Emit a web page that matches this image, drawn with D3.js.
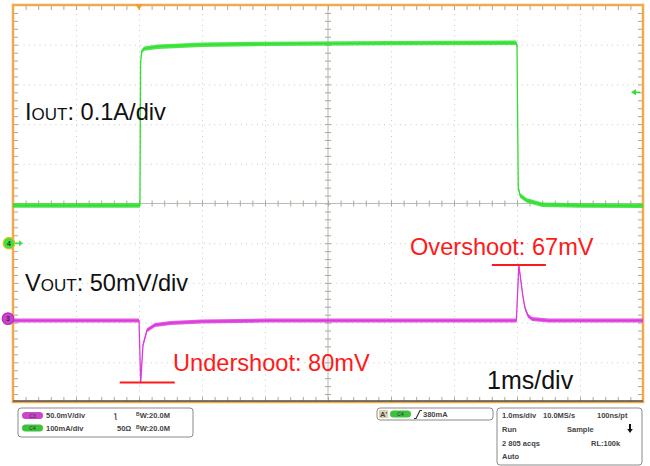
<!DOCTYPE html>
<html>
<head>
<meta charset="utf-8">
<script src="https://cdn.jsdelivr.net/npm/d3@7"></script>
<style>
  body { margin: 0; background: #fff; }
  svg { display: block; font-family: "Liberation Sans", Arial, sans-serif; }
  .stat { font-size: 7.5px; font-weight: bold; fill: #444; }
  .label { font-size: 23.6px; fill: #111; }
  .note { font-size: 23.6px; fill: #ff1a1a; }
</style>
</head>
<body>
<script>
// screen graticule
var plot = { left: 13, right: 643, top: 5, bottom: 402 };
var divisions = [-5, -4, -3, -2, -1, 0, 1, 2, 3, 4, 5];

// horizontal: ms, trigger at 0
var timeDomain = [-2, 8];

// channel 4 (load current, 0.1 A/div, ground 1 div below centre)
var iTime = [-2, 0, 0.015, 0.025, 0.04, 0.08, 0.3, 1, 2, 4, 5.98, 6.0, 6.02, 6.05, 6.15, 6.4, 7, 8];
var iAmps = [0.095, 0.095, 0.095, 0.45, 0.482, 0.49, 0.495, 0.5, 0.502, 0.504, 0.505, 0.5, 0.14, 0.12, 0.108, 0.097, 0.095, 0.094];

// channel 3 (output voltage deviation in mV, 50 mV/div)
var vTime = [-2, 0, 0.027, 0.063, 0.127, 0.254, 0.5, 1, 2, 5.99, 6.015, 6.03, 6.06, 6.095, 6.127, 6.175, 6.24, 6.5, 8];
var vMilli = [0, 0, -78, -31, -12, -5.5, -3, -1, 0, 0, 45, 70, 51, 30, 16, 6, 2, 0, 0];

var triggerAmps = 0.38;

var width = 650, height = 466;

var svg = d3.select("body").append("svg")
    .attr("width", width)
    .attr("height", height);

var x = d3.scaleLinear().domain(timeDomain).range([plot.left, plot.right]);
var yDiv = d3.scaleLinear().domain([-5, 5]).range([plot.bottom, plot.top]);
// per-channel scales in their own units
var yI = d3.scaleLinear().domain([(-5 + 1) * 0.1, (5 + 1) * 0.1]).range([plot.bottom, plot.top]);
var yV = d3.scaleLinear().domain([(-5 + 2.95) * 50, (5 + 2.95) * 50]).range([plot.bottom, plot.top]);
var xDiv = d3.scaleLinear().domain([-5, 5]).range([plot.left, plot.right]);

var grid = svg.append("g").attr("class", "graticule");

// dotted division lines
grid.append("g")
    .attr("transform", "translate(0," + plot.bottom + ")")
    .call(d3.axisBottom(xDiv).tickValues(divisions.filter(function (d) { return Math.abs(d) != 5 && d != 0; }))
        .tickSize(-(plot.bottom - plot.top)).tickFormat(""))
    .call(function (g) { g.select(".domain").remove(); })
    .selectAll("line")
    .attr("stroke", "#c9c9c9")
    .attr("stroke-dasharray", "1,4.3");

grid.append("g")
    .attr("transform", "translate(" + plot.left + ",0)")
    .call(d3.axisLeft(yDiv).tickValues(divisions.filter(function (d) { return Math.abs(d) != 5 && d != 0; }))
        .tickSize(-(plot.right - plot.left)).tickFormat(""))
    .call(function (g) { g.select(".domain").remove(); })
    .selectAll("line")
    .attr("stroke", "#c9c9c9")
    .attr("stroke-dasharray", "1,4.3");

// minor ticks every 0.2 div
var minor = d3.range(-5, 5.001, 0.2).map(function (d) { return +d.toFixed(1); })
    .filter(function (d) { return Math.abs(d) < 5; });

// centre crosshair
grid.append("line")
    .attr("x1", plot.left).attr("x2", plot.right)
    .attr("y1", yDiv(0)).attr("y2", yDiv(0))
    .attr("stroke", "#bdbdb3").attr("stroke-width", 1);
grid.append("line")
    .attr("x1", xDiv(0)).attr("x2", xDiv(0))
    .attr("y1", plot.top).attr("y2", plot.bottom)
    .attr("stroke", "#bdbdb3").attr("stroke-width", 1);

function tickAxis(axis, tx, ty) {
    grid.append("g")
        .attr("transform", "translate(" + tx + "," + ty + ")")
        .call(axis.tickValues(minor).tickFormat("").tickSizeOuter(0))
        .call(function (g) { g.select(".domain").remove(); })
        .selectAll("line")
        .attr("stroke", "#a8a8a0");
}
// crosshair ticks, both sides
tickAxis(d3.axisBottom(xDiv).tickSize(3), 0, yDiv(0));
tickAxis(d3.axisTop(xDiv).tickSize(3), 0, yDiv(0));
tickAxis(d3.axisLeft(yDiv).tickSize(3), xDiv(0), 0);
tickAxis(d3.axisRight(yDiv).tickSize(3), xDiv(0), 0);
// border ticks pointing inwards
tickAxis(d3.axisBottom(xDiv).tickSize(5), 0, plot.top);
tickAxis(d3.axisTop(xDiv).tickSize(5), 0, plot.bottom);
tickAxis(d3.axisRight(yDiv).tickSize(5), plot.left, 0);
tickAxis(d3.axisLeft(yDiv).tickSize(5), plot.right, 0);

// frame
svg.append("rect")
    .attr("x", plot.left).attr("y", plot.top)
    .attr("width", plot.right - plot.left).attr("height", plot.bottom - plot.top)
    .attr("fill", "none")
    .attr("stroke", "#f0ac4c")
    .attr("stroke-width", 2.5);
svg.append("line")
    .attr("x1", plot.left).attr("x2", plot.right)
    .attr("y1", plot.bottom - 1).attr("y2", plot.bottom - 1)
    .attr("stroke", "#55524a").attr("stroke-width", 1.5);

// traces: thin line plus a noise band
function drawTrace(times, values, yScale, color, band) {
    var pts = times.map(function (t, i) { return [t, values[i]]; });
    var area = d3.area()
        .x(function (d) { return x(d[0]); })
        .y0(function (d) { return yScale(d[1]) - band; })
        .y1(function (d) { return yScale(d[1]) + band; });
    var line = d3.line()
        .x(function (d) { return x(d[0]); })
        .y(function (d) { return yScale(d[1]); });
    var g = svg.append("g");
    g.append("path").datum(pts)
        .attr("d", area)
        .attr("fill", color)
        .attr("opacity", 0.85);
    g.append("path").datum(pts)
        .attr("d", line)
        .attr("fill", "none")
        .attr("stroke", color)
        .attr("stroke-width", 1.3);
}
drawTrace(iTime, iAmps, yI, "#2fe02f", 2.2);
drawTrace(vTime, vMilli, yV, "#dc3adc", 2.0);

// trigger position marker on top
svg.append("path")
    .attr("d", "M" + (x(0) - 4) + "," + (plot.top - 1) + "L" + (x(0) + 4) + "," + (plot.top - 1) + "L" + x(0) + "," + (plot.top + 5) + "Z")
    .attr("fill", "#f0a030");

// trigger level arrow on right
var trigY = yI(triggerAmps);
svg.append("line")
    .attr("x1", plot.right - 9).attr("x2", plot.right - 3)
    .attr("y1", trigY).attr("y2", trigY)
    .attr("stroke", "#2fe02f").attr("stroke-width", 1.5);
svg.append("path")
    .attr("d", "M" + (plot.right - 12) + "," + trigY + "l5,-3l0,6Z")
    .attr("fill", "#2fe02f");

// channel ground markers
function chanMarker(cx, cy, fill, label, arrow) {
    var g = svg.append("g");
    if (arrow) {
        g.append("line").attr("x1", cx + 5).attr("x2", cx + 10).attr("y1", cy).attr("y2", cy)
            .attr("stroke", fill).attr("stroke-width", 1.5);
        g.append("path").attr("d", "M" + (cx + 14) + "," + cy + "l-4,-3l0,6Z").attr("fill", fill);
    }
    g.append("circle").attr("cx", cx).attr("cy", cy).attr("r", 5.8)
        .attr("fill", fill).attr("stroke", arrow ? "#e8c020" : "#b830b8").attr("stroke-width", 1.2);
    g.append("text").attr("x", cx).attr("y", cy + 2.5)
        .attr("text-anchor", "middle").attr("font-size", 7).attr("font-weight", "bold")
        .attr("fill", "#333").text(label);
}
chanMarker(9, yI(0), "#3ee03e", "4", true);
chanMarker(8, yV(0) - 2, "#d040d0", "3", false);

// labels
var iLab = svg.append("text").attr("class", "label").attr("x", 25).attr("y", 120);
iLab.append("tspan").text("I");
iLab.append("tspan").attr("font-size", 17).text("OUT");
iLab.append("tspan").text(": 0.1A/div");

var vLab = svg.append("text").attr("class", "label").attr("x", 25).attr("y", 291);
vLab.append("tspan").text("V");
vLab.append("tspan").attr("font-size", 17).text("OUT");
vLab.append("tspan").text(": 50mV/div");

svg.append("text").attr("class", "label").attr("x", 487).attr("y", 389)
    .attr("font-size", 25).style("font-size", "25px").text("1ms/div");

// undershoot / overshoot annotations from the data extremes
var minIdx = d3.minIndex(vMilli), maxIdx = d3.maxIndex(vMilli);
svg.append("line")
    .attr("x1", x(vTime[minIdx]) - 21).attr("x2", x(vTime[minIdx]) + 34)
    .attr("y1", yV(vMilli[minIdx])).attr("y2", yV(vMilli[minIdx]))
    .attr("stroke", "#ff1a1a").attr("stroke-width", 2);
svg.append("text").attr("class", "note").attr("x", 173).attr("y", 371).text("Undershoot: 80mV");

svg.append("line")
    .attr("x1", x(vTime[maxIdx]) - 27).attr("x2", x(vTime[maxIdx]) + 27)
    .attr("y1", yV(vMilli[maxIdx])).attr("y2", yV(vMilli[maxIdx]))
    .attr("stroke", "#ff1a1a").attr("stroke-width", 2);
svg.append("text").attr("class", "note").attr("x", 410).attr("y", 255).text("Overshoot: 67mV");

// status bar
function box(x0, y0, w, h) {
    svg.append("rect").attr("x", x0).attr("y", y0).attr("width", w).attr("height", h)
        .attr("rx", 3).attr("fill", "#fff").attr("stroke", "#8a8a8a").attr("stroke-width", 1);
}
function pill(x0, cy, fill, label) {
    svg.append("rect").attr("x", x0).attr("y", cy - 3.5).attr("width", 21).attr("height", 7)
        .attr("rx", 3.5).attr("fill", fill);
    svg.append("text").attr("x", x0 + 10.5).attr("y", cy + 2).attr("text-anchor", "middle")
        .attr("font-size", 5).attr("fill", "#333").text(label);
}
function stat(x0, y0, s) {
    return svg.append("text").attr("class", "stat").attr("x", x0).attr("y", y0).text(s);
}
function bw(x0, y0) {
    var t = svg.append("text").attr("class", "stat").attr("x", x0).attr("y", y0);
    t.append("tspan").attr("font-size", 5).attr("dy", -2).text("B");
    t.append("tspan").attr("dy", 2).text("W:20.0M");
}

box(18, 408, 175, 29);
pill(22, 415.5, "#c846c8", "C3");
stat(46, 418, "50.0mV/div");
stat(114, 418, "\u01AA");
bw(136, 418);
pill(22, 428, "#3cc23c", "C4");
stat(46, 431, "100mA/div");
stat(117, 431, "50\u03A9");
bw(136, 431);

box(377, 408, 116, 12);
svg.append("rect").attr("x", 379).attr("y", 410).attr("width", 9).attr("height", 8).attr("fill", "#e0d0b0");
stat(380, 417, "A'");
pill(390, 414, "#3cc23c", "C4");
svg.append("path").attr("d", "M414,418.5h2l4,-8h2").attr("fill", "none").attr("stroke", "#333").attr("stroke-width", 1.2);
stat(423, 417, "380mA");

box(497, 408, 145, 57);
stat(502, 418, "1.0ms/div");
stat(543, 418, "10.0MS/s");
stat(597, 418, "100ns/pt");
stat(502, 432, "Run");
stat(567, 432, "Sample");
svg.append("path").attr("d", "M629,424v5h-1.8l2.8,4l2.8,-4h-1.8v-5Z").attr("fill", "#111");
stat(502, 446, "2 805 acqs");
stat(591, 446, "RL:100k");
stat(502, 459, "Auto");
</script>
</body>
</html>
